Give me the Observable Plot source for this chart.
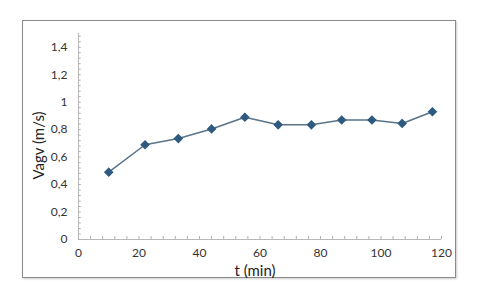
<!DOCTYPE html>
<html>
<head>
<meta charset="utf-8">
<script src="https://cdn.jsdelivr.net/npm/d3@7"></script>
<script src="https://cdn.jsdelivr.net/npm/@observablehq/plot@0.6"></script>
<style>
  html, body { margin: 0; padding: 0; background: #fff; }
  #wrap { position: relative; width: 480px; height: 303px; overflow: hidden; }
  #frame { position: absolute; left: 22px; top: 20px; width: 432px; height: 256px; border: 1.5px solid #8a8a8a; box-shadow: 1px 1px 2px #ccc; }
  #chart { position: absolute; left: 0; top: 0; }
</style>
</head>
<body>
<div id="wrap"><div id="frame"></div><div id="chart"></div></div>
<script>
const times = [10, 22, 33, 44, 55, 66, 77, 87, 97, 107, 117];
const speeds = [0.49, 0.69, 0.735, 0.805, 0.89, 0.835, 0.835, 0.87, 0.87, 0.845, 0.93];
const xTicks = [0, 20, 40, 60, 80, 100, 120];
const yTicks = [0, 0.2, 0.4, 0.6, 0.8, 1, 1.2, 1.4];
const xMinor = d3.range(0, 121, 4);
const yMinor = d3.range(0, 1.49, 0.04);
const xLabel = "t (min)";
const yLabel = "Vagv (m/s)";

const data = times.map((t, i) => ({t, v: speeds[i]}));
const fmt = d => (Math.round(d * 10) / 10).toString().replace(".", ",");
const font = "Lato, 'Open Sans', sans-serif";

const chart = Plot.plot({
  width: 480,
  height: 303,
  marginLeft: 78,
  marginRight: 39,
  marginTop: 33,
  marginBottom: 64,
  style: {fontFamily: font, fontSize: "12px", color: "#333", background: "transparent"},
  x: {domain: [0, 120]},
  y: {domain: [0, 1.5]},
  marks: [
    Plot.ruleY([0], {stroke: "#b8b8b8"}),
    Plot.ruleX([0], {stroke: "#b8b8b8"}),
    Plot.ruleX(xMinor, {x: d => d, y1: 0, y2: 0.022, stroke: "#b0b0b0"}),
    Plot.ruleY(yMinor, {y: d => d, x1: 0, x2: 0.9, stroke: "#b0b0b0"}),
    Plot.axisX({ticks: xTicks, tickSize: 0, tickFormat: d => d, tickPadding: 9, fontSize: 12, fill: "#333", label: null}),
    Plot.axisY({ticks: yTicks, tickSize: 0, tickFormat: fmt, tickPadding: 11, fontSize: 12, fill: "#333", label: null}),
    Plot.text([xLabel], {frameAnchor: "bottom", lineAnchor: "bottom", dx: -5, dy: 36, fontSize: 15, fill: "#222", fontFamily: font}),
    Plot.text([yLabel], {frameAnchor: "left", textAnchor: "middle", dx: -39, dy: 9, rotate: -90, fontSize: 15, fill: "#222", fontFamily: font}),
    Plot.line(data, {x: "t", y: "v", stroke: "#5a7388", strokeWidth: 1.5}),
    Plot.dot(data, {x: "t", y: "v", symbol: "diamond2", r: 3.4, fill: "#2f5a80", stroke: "#2f5a80"})
  ]
});
document.getElementById("chart").appendChild(chart);
</script>
</body>
</html>
